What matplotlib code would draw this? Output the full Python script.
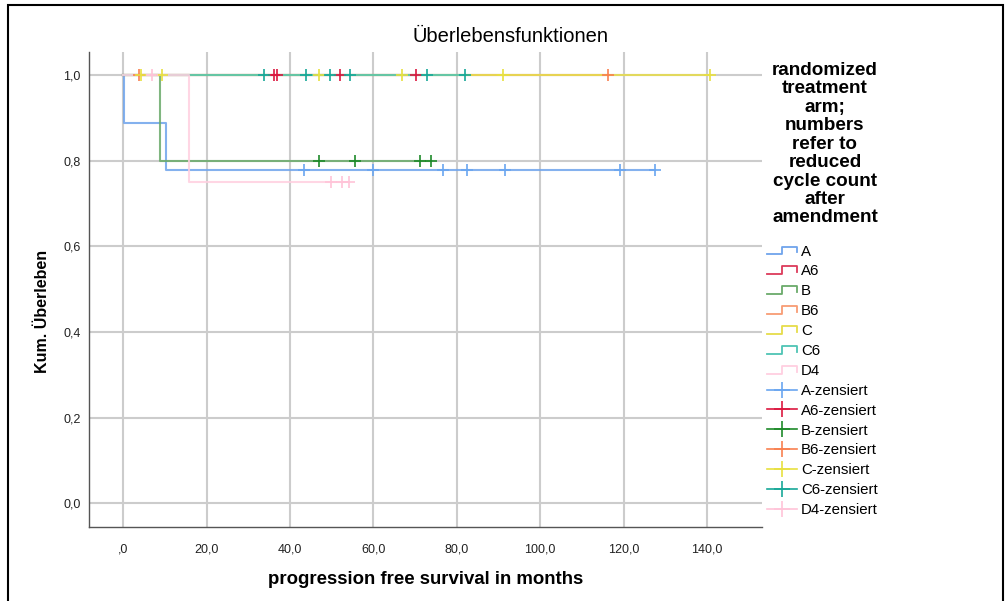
import numpy as np
import matplotlib
matplotlib.use("Agg")
import matplotlib.pyplot as plt
from matplotlib.lines import Line2D
from matplotlib.legend_handler import HandlerBase
from matplotlib.patches import Rectangle

plt.rcParams['font.family'] = ['Liberation Sans', 'DejaVu Sans']

# treatment arms: event times and censored times (months)
arms = ['A', 'A6', 'B', 'B6', 'C', 'C6', 'D4']
events = {
    'A': [0.3, 10.3],
    'A6': [],
    'B': [8.9],
    'B6': [],
    'C': [],
    'C6': [],
    'D4': [15.8],
}
censored = {
    'A': [43.4, 59.9, 76.7, 82.5, 91.6, 119.2, 127.5],
    'A6': [36.2, 36.9, 52.0, 70.2],
    'B': [47.0, 55.6, 71.2, 73.8],
    'B6': [3.9, 116.3],
    'C': [4.3, 9.3, 47.0, 66.9, 91.1, 140.7],
    'C6': [33.8, 43.9, 49.6, 54.4, 72.9, 82.0],
    'D4': [7.0, 49.9, 52.5, 54.2],
}
line_colors = {
    'A': '#6fa4ec', 'A6': '#dc3a5a', 'B': '#6aaa6a', 'B6': '#f89c74',
    'C': '#e6dc4a', 'C6': '#4ec4b4', 'D4': '#ffcfe0',
}
cens_colors = {
    'A': '#6aa6f0', 'A6': '#dc1840', 'B': '#1e8a2a', 'B6': '#f88050',
    'C': '#e8e040', 'C6': '#18a898', 'D4': '#ffc4d8',
}

xticks = np.arange(0, 141, 20)
xtick_labels = [',0', '20,0', '40,0', '60,0', '80,0', '100,0', '120,0', '140,0']
yticks = np.arange(0, 1.01, 0.2)
ytick_labels = ['0,0', '0,2', '0,4', '0,6', '0,8', '1,0']


def kaplan_meier(ev, cen):
    all_t = np.array(ev + cen)
    xs, ys = [0.0], [1.0]
    s = 1.0
    for t in sorted(set(ev)):
        at_risk = np.sum(all_t >= t)
        d = ev.count(t)
        s *= 1 - d / at_risk
        xs.append(t)
        ys.append(s)
    xs.append(all_t.max())
    ys.append(s)
    return np.array(xs), np.array(ys)


fig = plt.figure(figsize=(10.06, 6.01), dpi=100)
ax = fig.add_axes([0.0885, 0.123, 0.669, 0.7905])

for arm in arms:
    xs, ys = kaplan_meier(events[arm], censored[arm])
    ax.step(xs, ys, where='post', color=line_colors[arm], lw=1.5, alpha=0.85, zorder=3)
    ct = np.array(censored[arm])
    idx = np.searchsorted(xs, ct, side='right') - 1
    ax.plot(ct, ys[idx], ls='none', marker='+', ms=9, mew=1.2,
            color=cens_colors[arm], zorder=4)

ax.set_xlim(-8.2, 153.2)
ax.set_ylim(-0.056, 1.054)
ax.set_xticks(xticks)
ax.set_xticklabels(xtick_labels)
ax.set_yticks(yticks)
ax.set_yticklabels(ytick_labels)
ax.tick_params(length=0, labelsize=9, colors='#222222')
ax.tick_params(axis='x', pad=12)
ax.tick_params(axis='y', pad=6)
ax.grid(True, color='#cccccc', lw=1.5, zorder=0)
ax.set_axisbelow(True)
for side in ['top', 'right']:
    ax.spines[side].set_visible(False)
for side in ['left', 'bottom']:
    ax.spines[side].set_color('#555555')
    ax.spines[side].set_linewidth(1.0)

fig.text(511 / 1006, 1 - 36 / 601, 'Überlebensfunktionen', fontsize=14.5,
         ha='center', va='center')
ax.set_xlabel('progression free survival in months', fontsize=13.4,
              fontweight='bold', labelpad=11)
ax.set_ylabel('Kum. Überleben', fontsize=11.5, fontweight='bold')
ax.yaxis.set_label_coords(-0.058, 0.453)


class StepHandler(HandlerBase):
    def create_artists(self, legend, orig_handle, xdescent, ydescent,
                       width, height, fontsize, trans):
        w, h = width, height
        px = np.array([0, 0.5, 0.5, 1.0, 1.0]) * w - xdescent
        py = np.array([0.1, 0.1, 0.85, 0.85, 0.3]) * h - ydescent
        ln = Line2D(px, py, color=orig_handle.get_color(), lw=1.3, transform=trans)
        return [ln]


handles, labels, hmap = [], [], {}
for arm in arms:
    h = Line2D([], [], color=line_colors[arm])
    handles.append(h)
    labels.append(arm)
    hmap[h] = StepHandler()
for arm in arms:
    handles.append(Line2D([], [], color=cens_colors[arm], marker='+', ms=12, mew=1.2, lw=1.2))
    labels.append(arm + '-zensiert')

fig.legend(handles, labels, handler_map=hmap, loc='upper left',
           bbox_to_anchor=(767 / 1006, 1 - 244.5 / 601), frameon=False,
           fontsize=10.8, handlelength=2.0, handletextpad=0.27, labelspacing=0.393,
           borderpad=0, borderaxespad=0, numpoints=1)

fig.text(825 / 1006, 1 - 62 / 601,
         'randomized\ntreatment\narm;\nnumbers\nrefer to\nreduced\ncycle count\nafter\namendment',
         ha='center', va='top', fontsize=13.6, fontweight='bold', linespacing=1.11)

fig.add_artist(Rectangle((8 / 1006, -0.05), 995 / 1006, 1.05 - 5 / 601,
                         transform=fig.transFigure, fill=False, ec='black', lw=1.5))

fig.savefig('out.png', dpi=100)
